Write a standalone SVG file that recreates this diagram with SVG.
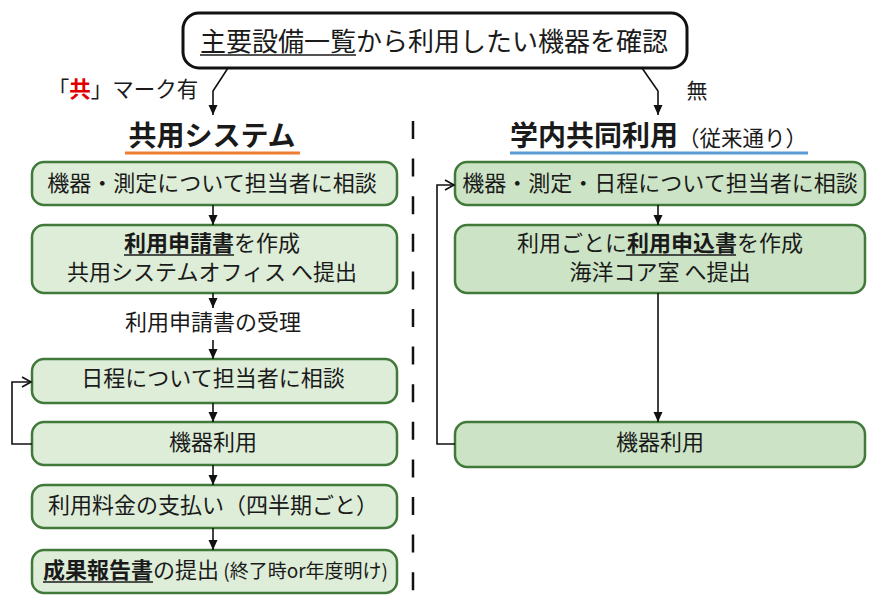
<svg xmlns="http://www.w3.org/2000/svg" width="877" height="600" viewBox="0 0 877 600">
<style>
text{font-family:"Noto Sans CJK JP","Noto Sans",sans-serif;fill:#1a1a1a}
.bx{font-size:22px}
.b{font-weight:bold}
.lbox{fill:#DDEDD8;stroke:#41793A;stroke-width:2.5}
.rbox{fill:#CCE4C5;stroke:#41793A;stroke-width:2.5}
.ln{fill:none;stroke:#111;stroke-width:1.6}
.ul{stroke:#1a1a1a;stroke-width:1.5}
</style>
<defs>
<marker id="ah" markerUnits="userSpaceOnUse" markerWidth="10" markerHeight="10" refX="10" refY="4.5" orient="auto">
<path d="M0,0 L10,4.5 L0,9 z" fill="#111"/>
</marker>
<marker id="ch" markerUnits="userSpaceOnUse" markerWidth="12" markerHeight="12" refX="10" refY="6" orient="auto">
<path d="M1,1 L10,6 L1,11" fill="none" stroke="#111" stroke-width="1.6"/>
</marker>
</defs>

<g id="top">
<rect x="183" y="13" width="504" height="55" rx="16" fill="#fff" stroke="#111" stroke-width="3"/>
<text x="434" y="51" font-size="26" text-anchor="middle">主要設備一覧から利用したい機器を確認</text>
<line class="ul" x1="200" y1="55" x2="356" y2="55"/>
</g>

<g id="label-yes">
<text x="123" y="97" font-size="21.5" text-anchor="middle">「<tspan fill="#E00000" font-weight="bold">共</tspan>」マーク有</text>
</g>
<g id="label-no">
<text x="697" y="98" font-size="21" text-anchor="middle">無</text>
</g>

<g id="title-left">
<text x="212" y="146" font-size="28" class="b" text-anchor="middle">共用システム</text>
<line x1="125" y1="153" x2="300" y2="153" stroke="#ED7D31" stroke-width="3"/>
</g>
<g id="title-right">
<text x="510" y="146" font-size="28" class="b">学内共同利用<tspan font-size="21.5" font-weight="normal">（従来通り）</tspan></text>
<line x1="510" y1="153" x2="808" y2="153" stroke="#5B9BD5" stroke-width="3"/>
</g>

<g id="divider">
<line x1="413" y1="121" x2="413" y2="592" stroke="#111" stroke-width="2.5" stroke-dasharray="18 19.6"/>
</g>

<g id="L1">
<rect class="lbox" x="32" y="162" width="365" height="43" rx="12"/>
<text class="bx" x="212" y="191" text-anchor="middle">機器・測定について担当者に相談</text>
</g>
<g id="L2">
<rect class="lbox" x="32" y="225" width="365" height="68" rx="12"/>
<text class="bx" x="212" y="251" text-anchor="middle"><tspan class="b">利用申請書</tspan>を作成</text>
<line class="ul" x1="124" y1="255" x2="234" y2="255"/>
<text class="bx" x="212" y="280" text-anchor="middle">共用システムオフィス へ提出</text>
</g>
<g id="L-receipt">
<text class="bx" x="213" y="330" text-anchor="middle">利用申請書の受理</text>
</g>
<g id="L3">
<rect class="lbox" x="32" y="359" width="365" height="44" rx="12"/>
<text class="bx" x="213" y="386" text-anchor="middle">日程について担当者に相談</text>
</g>
<g id="L4">
<rect class="lbox" x="32" y="422" width="365" height="43" rx="12"/>
<text class="bx" x="213" y="450" text-anchor="middle">機器利用</text>
</g>
<g id="L5">
<rect class="lbox" x="32" y="485" width="365" height="43" rx="12"/>
<text class="bx" x="213" y="513" text-anchor="middle">利用料金の支払い（四半期ごと）</text>
</g>
<g id="L6">
<rect class="lbox" x="32" y="550" width="365" height="43" rx="12"/>
<text class="bx" x="43" y="578"><tspan class="b">成果報告書</tspan>の提出<tspan font-size="19"> (終了時or年度明け)</tspan></text>
<line class="ul" x1="43" y1="582" x2="153" y2="582"/>
</g>

<g id="R1">
<rect class="rbox" x="455" y="162" width="410" height="43" rx="12"/>
<text class="bx" x="660" y="191" text-anchor="middle">機器・測定・日程について担当者に相談</text>
</g>
<g id="R2">
<rect class="rbox" x="455" y="225" width="410" height="68" rx="12"/>
<text class="bx" x="660" y="251" text-anchor="middle">利用ごとに<tspan class="b">利用申込書</tspan>を作成</text>
<line class="ul" x1="626" y1="255" x2="736" y2="255"/>
<text class="bx" x="660" y="280" text-anchor="middle">海洋コア室 へ提出</text>
</g>
<g id="R3">
<rect class="rbox" x="455" y="422" width="410" height="45" rx="12"/>
<text class="bx" x="660" y="450" text-anchor="middle">機器利用</text>
</g>

<g id="connectors">
<path class="ln" d="M228,68 L213,91 V115" marker-end="url(#ah)"/>
<path class="ln" d="M642,68 L658,91 V115" marker-end="url(#ah)"/>
<path class="ln" d="M213,205 V225" marker-end="url(#ah)"/>
<path class="ln" d="M213,293 V308" marker-end="url(#ah)"/>
<path class="ln" d="M213,340 V359" marker-end="url(#ah)"/>
<path class="ln" d="M213,403 V422" marker-end="url(#ah)"/>
<path class="ln" d="M213,465 V485" marker-end="url(#ah)"/>
<path class="ln" d="M213,528 V550" marker-end="url(#ah)"/>
<path class="ln" d="M32,444 H12 V382 H31" marker-end="url(#ch)"/>
<path class="ln" d="M658,205 V225" marker-end="url(#ah)"/>
<path class="ln" d="M658,293 V422" marker-end="url(#ah)"/>
<path class="ln" d="M455,444 H437 V185 H454" marker-end="url(#ch)"/>
</g>
</svg>
